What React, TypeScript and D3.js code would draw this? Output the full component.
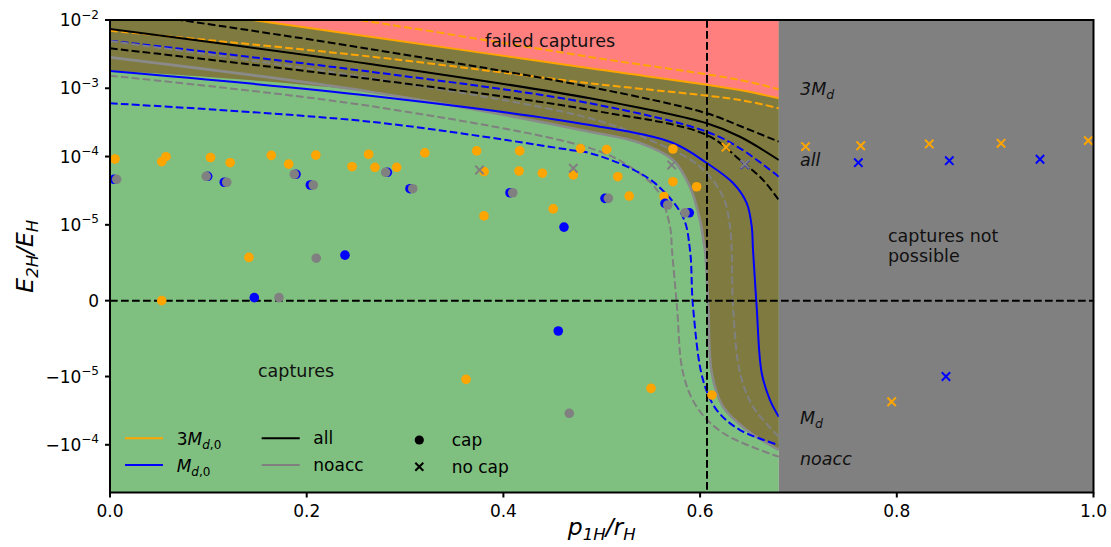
import React, { useRef, useEffect } from 'react';
import * as d3 from 'd3';

// curves: [p1H/rH, E2H/EH]
const failBoundary = [[0, 0.0199], [0.1454, 0.01], [0.2644, 0.00569], [0.488, 0.00196], [0.6406, 0.000943], [0.68, 0.000713]];
const orangeDashedHigh = [[0, 0.0326], [0.2644, 0.00944], [0.488, 0.00287], [0.6406, 0.001322], [0.68, 0.000966]];
const orangeDashedLow = [[0, 0.00697], [0.2644, 0.00292], [0.488, 0.001183], [0.6406, 0.000673], [0.68, 0.000509]];
const blackDashedHigh = [[0, 0.01401], [0.0712, 0.01], [0.2644, 0.00376], [0.488, 0.001045], [0.6067, 0.00043], [0.6406, 0.00028], [0.68, 0.000165]];
const blackSolid = [[0, 0.00738], [0.2644, 0.00227], [0.488, 0.000713], [0.6067, 0.000307], [0.6406, 0.000195], [0.68, 0.000089]];
const blueDashedHigh = [[0, 0.00497], [0.2644, 0.00175], [0.488, 0.000602], [0.6067, 0.000231], [0.6406, 0.000132], [0.68, 0.0000507]];
const blackDashedLow = [[0, 0.00385], [0.2644, 0.001367], [0.488, 0.000481], [0.6067, 0.000207], [0.6406, 0.000089], [0.664, 0.0000453], [0.68, 0.0000231]];
const greyDashedHigh = [[0, 0.00492], [0.2644, 0.001413], [0.488, 0.000363], [0.5559, 0.000158], [0.5999, 0.000071], [0.6233, 0.0000258], [0.6304, 0.00000976], [0.6321, 0.0000067], [0.6335, -0.00000079], [0.6406, -0.0000095], [0.6538, -0.0000277], [0.68, -0.0000762]];
const greySolid = [[0, 0.00284], [0.2644, 0.000891], [0.488, 0.000231], [0.5389, 0.000158], [0.5724, 0.000089], [0.5897, 0.0000361], [0.5999, 0.0000118], [0.6033, 0.000008], [0.605, 0.0000067], [0.6083, -0.00000079], [0.6118, -0.0000095], [0.6233, -0.0000277], [0.6474, -0.0000608], [0.68, -0.000119]];
const captureEdgeLeft = [[0, 0.00182]];
const blueSolid = [[0, 0.00179], [0.2644, 0.000778], [0.488, 0.00029], [0.5724, 0.000158], [0.6067, 0.0000804], [0.6335, 0.0000409], [0.6474, 0.0000208], [0.6525, 0.00000976], [0.6538, 0.0000067], [0.6575, -0.00000079], [0.6626, -0.0000095], [0.6711, -0.0000221], [0.68, -0.0000388]];
const greyDashedLow = [[0, 0.001528], [0.2644, 0.00055], [0.488, 0.000133], [0.5257, 0.0000752], [0.5562, 0.0000323], [0.5694, 0.00000976], [0.5714, 0.0000067], [0.5765, -0.00000079], [0.5826, -0.0000095], [0.5965, -0.0000277], [0.6233, -0.0000672], [0.68, -0.00015]];
const blueDashedLow = [[0, 0.000602], [0.2644, 0.000324], [0.4678, 0.000125], [0.488, 0.000112], [0.5287, 0.0000679], [0.5562, 0.0000383], [0.5826, 0.000013], [0.5897, 0.0000067], [0.5928, -0.00000079], [0.603, -0.00001125], [0.6169, -0.000031], [0.6406, -0.0000608], [0.68, -0.0001008]];

// simulation points
const capOrange = [[0.0051, 9.2e-5], [0.0526, 8.4e-5], [0.0569, 9.95e-5], [0.1022, 9.68e-5], [0.1222, 8.13e-5], [0.164, 1.04e-4], [0.1817, 7.73e-5], [0.2093, 1.05e-4], [0.2461, 7.1e-5], [0.263, 1.08e-4], [0.2694, 6.95e-5], [0.2915, 6.95e-5], [0.3201, 1.13e-4], [0.3728, 1.21e-4], [0.3803, 6.04e-5], [0.4166, 1.21e-4], [0.4159, 6.14e-5], [0.4396, 5.7e-5], [0.3803, 1.35e-5], [0.4506, 1.71e-5], [0.4711, 5.37e-5], [0.4784, 1.31e-4], [0.1413, 5.7e-6], [0.0526, 0], [0.505, 1.27e-4], [0.5163, 5.07e-5], [0.5279, 2.64e-5], [0.5633, 2.6e-5], [0.5724, 1.29e-4], [0.5724, 4.28e-5], [0.5965, 3.61e-5], [0.362, -1.1e-5], [0.5501, -1.49e-5], [0.6121, -1.87e-5]];
const capBlue = [[0.0041, 4.64e-5], [0.0993, 5.14e-5], [0.1162, 4.2e-5], [0.1891, 5.5e-5], [0.2037, 3.83e-5], [0.282, 5.88e-5], [0.305, 3.38e-5], [0.4067, 2.95e-5], [0.5033, 2.44e-5], [0.5643, 2.06e-5], [0.589, 1.5e-5], [0.4616, 9.7e-6], [0.2389, 6.0e-6], [0.1467, 4e-7], [0.4558, -4.0e-6]];
const capGrey = [[0.0068, 4.64e-5], [0.0979, 5.14e-5], [0.1187, 4.2e-5], [0.1874, 5.5e-5], [0.2067, 3.83e-5], [0.2803, 5.88e-5], [0.3078, 3.38e-5], [0.4095, 2.95e-5], [0.5067, 2.44e-5], [0.5671, 1.95e-5], [0.5846, 1.5e-5], [0.2097, 5.6e-6], [0.1718, 4e-7], [0.467, -3.46e-5]];
const noCapOrange = [[0.6263, 1.37e-4], [0.7072, 1.4e-4], [0.7633, 1.44e-4], [0.833, 1.53e-4], [0.906, 1.56e-4], [0.9947, 1.71e-4], [0.7948, -2.34e-5]];
const noCapBlue = [[0.6456, 7.64e-5], [0.7609, 8.13e-5], [0.8534, 8.69e-5], [0.9456, 9.12e-5], [0.85, -1.0e-5]];
const noCapGrey = [[0.3757, 6.35e-5], [0.4711, 6.73e-5], [0.5711, 7.52e-5], [0.6456, 7.78e-5]];

const xTicks = [0, 0.2, 0.4, 0.6, 0.8, 1.0];
const yTicks = [1e-2, 1e-3, 1e-4, 1e-5, 0, -1e-5, -1e-4];
const yTickBase = ['10', '10', '10', '10', '0', '\u221210', '\u221210'];
const yTickExp = ['\u22122', '\u22123', '\u22124', '\u22125', '', '\u22125', '\u22124'];

const xLimit = 0.68;   // captures not possible beyond this
const xCrit = 0.607;   // vertical dashed line

const LINTHRESH = 1e-5;
const LINSCALE = 1 / (1 - 1 / 10);
const symlog = (v: number) => {
  const a = Math.abs(v);
  if (a <= LINTHRESH) return (v / LINTHRESH) * LINSCALE;
  return Math.sign(v) * (LINSCALE + Math.log10(a / LINTHRESH));
};

const App = () => {
  const svgRef = useRef<SVGSVGElement>(null);

  useEffect(() => {
    document.body.style.margin = '0';
    const width = 1111;
    const height = 547;
    const margin = { top: 20, right: 17.5, bottom: 54.5, left: 110 };
    const font = 'DejaVu Sans';

    const svg = d3.select(svgRef.current);
    svg.selectAll('*').remove();
    svg.attr('width', width).attr('height', height).style('font-family', font);

    const x = d3.scaleLinear().domain([0, 1]).range([margin.left, width - margin.right]);
    const yLin = d3.scaleLinear().domain([symlog(-5e-4), symlog(1e-2)]).range([height - margin.bottom, margin.top]);
    const y = (v: number) => yLin(symlog(v));

    const line = d3.line<number[]>()
      .x(d => x(d[0]))
      .y(d => y(d[1]))
      .curve(d3.curveCatmullRom.alpha(0.5));

    svg.append('defs').append('clipPath').attr('id', 'plot')
      .append('rect')
      .attr('x', x(0)).attr('y', y(1e-2))
      .attr('width', x(1) - x(0)).attr('height', y(-5e-4) - y(1e-2));

    const g = svg.append('g').attr('clip-path', 'url(#plot)');

    // regions
    g.append('rect')
      .attr('x', x(0)).attr('y', y(1e-2))
      .attr('width', x(xLimit) - x(0)).attr('height', y(-5e-4) - y(1e-2))
      .attr('fill', '#7fbf7f');

    const edge = captureEdgeLeft.concat(greySolid.slice(1));
    const lowerRev = edge.slice().reverse();
    g.append('path')
      .attr('d', line(failBoundary) + 'L' + (line(lowerRev) as string).substring(1) + 'Z')
      .attr('fill', '#7f7b40');

    g.append('path')
      .attr('d', line(failBoundary) + `L${x(xLimit)},${y(0.05)}L${x(0)},${y(0.05)}Z`)
      .attr('fill', '#ff7f7f');

    g.append('path').attr('d', line(greySolid)).attr('fill', 'none')
      .attr('stroke', '#8a8a8a').attr('stroke-width', 2.6);

    const dash = '7.7,3.3';
    const curves: [number[][], string, boolean][] = [
      [orangeDashedHigh, 'orange', true],
      [failBoundary, 'orange', false],
      [orangeDashedLow, 'orange', true],
      [blackDashedHigh, 'black', true],
      [blackSolid, 'black', false],
      [blueDashedHigh, 'blue', true],
      [greyDashedHigh, 'grey', true],
      [blackDashedLow, 'black', true],
      [blueSolid, 'blue', false],
      [greyDashedLow, 'grey', true],
      [blueDashedLow, 'blue', true],
    ];
    curves.forEach(([data, color, dashed]) => {
      g.append('path')
        .attr('d', line(data))
        .attr('fill', 'none')
        .attr('stroke', color)
        .attr('stroke-width', 2)
        .attr('stroke-dasharray', dashed ? dash : null);
    });

    g.append('rect')
      .attr('x', x(xLimit)).attr('y', y(1e-2))
      .attr('width', x(1) - x(xLimit)).attr('height', y(-5e-4) - y(1e-2))
      .attr('fill', '#808080');

    // reference lines
    g.append('line')
      .attr('x1', x(0)).attr('x2', x(1)).attr('y1', y(0)).attr('y2', y(0))
      .attr('stroke', 'black').attr('stroke-width', 2).attr('stroke-dasharray', dash);
    g.append('line')
      .attr('x1', x(xCrit)).attr('x2', x(xCrit)).attr('y1', y(1e-2)).attr('y2', y(-5e-4))
      .attr('stroke', 'black').attr('stroke-width', 2).attr('stroke-dasharray', dash);

    // points
    const dots = (data: number[][], color: string) => {
      g.selectAll(null).data(data).enter().append('circle')
        .attr('cx', d => x(d[0])).attr('cy', d => y(d[1]))
        .attr('r', 4.8).attr('fill', color);
    };
    const crosses = (data: number[][], color: string) => {
      const s = 4.2;
      g.selectAll(null).data(data).enter().append('path')
        .attr('d', d => {
          const cx = x(d[0]), cy = y(d[1]);
          return `M${cx - s},${cy - s}L${cx + s},${cy + s}M${cx - s},${cy + s}L${cx + s},${cy - s}`;
        })
        .attr('stroke', color).attr('stroke-width', 2).attr('fill', 'none');
    };
    dots(capOrange, 'orange');
    crosses(noCapOrange, 'orange');
    dots(capBlue, 'blue');
    crosses(noCapBlue, 'blue');
    dots(capGrey, 'grey');
    crosses(noCapGrey, 'grey');

    // annotations
    const note = (tx: number, ty: number, s: string, italic = false) =>
      svg.append('text').attr('x', tx).attr('y', ty).attr('font-size', 17.5)
        .attr('font-style', italic ? 'italic' : 'normal').attr('fill', '#111').text(s);
    note(485, 47, 'failed captures');
    note(258, 377, 'captures');
    note(888, 242, 'captures not');
    note(888, 262, 'possible');
    note(800, 166, 'all', true);
    note(800, 465, 'noacc', true);
    const md = (tx: number, ty: number, pre: string) => {
      const t = svg.append('text').attr('x', tx).attr('y', ty).attr('font-size', 17.5)
        .attr('font-style', 'italic').attr('fill', '#111');
      t.append('tspan').text(pre + 'M');
      t.append('tspan').attr('dy', 4).attr('font-size', 12.5).text('d');
    };
    md(800, 95, '3');
    md(800, 424, '');

    // axes
    const axisG = svg.append('g');
    axisG.append('rect')
      .attr('x', x(0)).attr('y', y(1e-2))
      .attr('width', x(1) - x(0)).attr('height', y(-5e-4) - y(1e-2))
      .attr('fill', 'none').attr('stroke', 'black').attr('stroke-width', 2);

    xTicks.forEach(t => {
      axisG.append('line').attr('x1', x(t)).attr('x2', x(t))
        .attr('y1', y(-5e-4)).attr('y2', y(-5e-4) + 5)
        .attr('stroke', 'black').attr('stroke-width', 2);
      axisG.append('text').attr('x', x(t)).attr('y', 517)
        .attr('text-anchor', 'middle').attr('font-size', 17).text(t.toFixed(1));
    });

    yTicks.forEach((t, i) => {
      axisG.append('line').attr('x1', x(0) - 5).attr('x2', x(0))
        .attr('y1', y(t)).attr('y2', y(t))
        .attr('stroke', 'black').attr('stroke-width', 2);
      const txt = axisG.append('text').attr('x', 99).attr('y', y(t) + 6)
        .attr('text-anchor', 'end').attr('font-size', 17);
      txt.append('tspan').text(yTickBase[i]);
      if (yTickExp[i]) txt.append('tspan').attr('dy', -7.5).attr('font-size', 12).text(yTickExp[i]);
    });

    // axis labels
    const xl = svg.append('text').attr('x', x(0.5)).attr('y', 535)
      .attr('text-anchor', 'middle').attr('font-size', 23.5).attr('font-style', 'italic');
    xl.append('tspan').text('p');
    xl.append('tspan').attr('dy', 5).attr('font-size', 16.5).text('1H');
    xl.append('tspan').attr('dy', -5).text('/r');
    xl.append('tspan').attr('dy', 5).attr('font-size', 16.5).text('H');

    const yl = svg.append('text')
      .attr('transform', `translate(33,${(y(1e-2) + y(-5e-4)) / 2}) rotate(-90)`)
      .attr('text-anchor', 'middle').attr('font-size', 23.5).attr('font-style', 'italic');
    yl.append('tspan').text('E');
    yl.append('tspan').attr('dy', 5).attr('font-size', 16.5).text('2H');
    yl.append('tspan').attr('dy', -5).text('/E');
    yl.append('tspan').attr('dy', 5).attr('font-size', 16.5).text('H');

    // legend
    const leg = svg.append('g');
    const legLines = [
      { x0: 125, ly: 438.3, color: 'orange', lx: 176.7, pre: '3' },
      { x0: 125, ly: 465, color: 'blue', lx: 176.7, pre: '' },
    ];
    legLines.forEach(l => {
      leg.append('line').attr('x1', l.x0).attr('x2', l.x0 + 38).attr('y1', l.ly).attr('y2', l.ly)
        .attr('stroke', l.color).attr('stroke-width', 2);
      const t = leg.append('text').attr('x', l.lx).attr('y', l.ly + 7).attr('font-size', 17);
      if (l.pre) t.append('tspan').text(l.pre);
      t.append('tspan').attr('font-style', 'italic').text('M');
      t.append('tspan').attr('dy', 4).attr('font-size', 12).attr('font-style', 'italic').text('d');
      t.append('tspan').attr('font-size', 12).text(',0');
    });
    [{ ly: 438.3, color: 'black', label: 'all' }, { ly: 465, color: 'grey', label: 'noacc' }].forEach(l => {
      leg.append('line').attr('x1', 261.7).attr('x2', 299.7).attr('y1', l.ly).attr('y2', l.ly)
        .attr('stroke', l.color).attr('stroke-width', 2);
      leg.append('text').attr('x', 313.3).attr('y', l.ly + 6).attr('font-size', 17).text(l.label);
    });
    leg.append('circle').attr('cx', 419.3).attr('cy', 440).attr('r', 4.6).attr('fill', 'black');
    leg.append('path')
      .attr('d', 'M415.3,462.7L423.3,470.7M415.3,470.7L423.3,462.7')
      .attr('stroke', 'black').attr('stroke-width', 2);
    leg.append('text').attr('x', 451.7).attr('y', 446).attr('font-size', 17).text('cap');
    leg.append('text').attr('x', 451.7).attr('y', 472.5).attr('font-size', 17).text('no cap');
  }, []);

  return <svg ref={svgRef} style={{ display: 'block' }}></svg>;
};

export default App;
